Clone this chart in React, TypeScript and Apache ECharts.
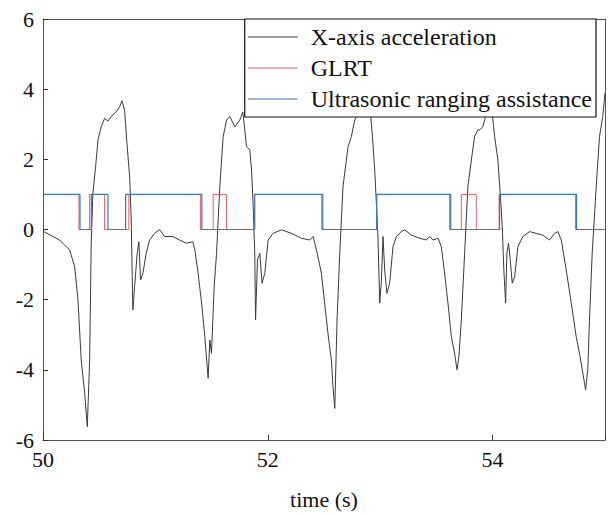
import React, { useEffect, useRef } from "react";
import * as echarts from "echarts";

const accTime = [
  50.0, 50.089, 50.148, 50.207, 50.237, 50.282, 50.311, 50.34, 50.371, 50.394, 50.415, 50.429, 50.444, 50.468,
  50.489, 50.518, 50.548, 50.578, 50.607, 50.652, 50.682, 50.702, 50.726, 50.747, 50.771, 50.785, 50.794, 50.8,
  50.815, 50.838, 50.853, 50.868, 50.889, 50.918, 50.948, 50.993, 51.037, 51.082, 51.156, 51.215, 51.274, 51.333,
  51.351, 51.38, 51.411, 51.44, 51.469, 51.484, 51.499, 51.523, 51.544, 51.573, 51.603, 51.633, 51.662, 51.707,
  51.751, 51.778, 51.811, 51.84, 51.855, 51.869, 51.884, 51.891, 51.908, 51.929, 51.949, 51.973, 52.003, 52.047,
  52.122, 52.211, 52.3, 52.373, 52.403, 52.433, 52.477, 52.522, 52.542, 52.566, 52.58, 52.596, 52.616, 52.64,
  52.669, 52.714, 52.744, 52.773, 52.788, 52.818, 52.862, 52.898, 52.916, 52.931, 52.951, 52.966, 52.98, 52.996,
  53.011, 53.025, 53.04, 53.06, 53.084, 53.114, 53.144, 53.188, 53.218, 53.277, 53.351, 53.411, 53.44, 53.469,
  53.514, 53.544, 53.573, 53.603, 53.633, 53.662, 53.683, 53.7, 53.722, 53.751, 53.78, 53.811, 53.84, 53.869,
  53.884, 53.914, 53.929, 53.956, 53.991, 54.018, 54.047, 54.068, 54.086, 54.1, 54.116, 54.127, 54.142, 54.157,
  54.175, 54.196, 54.225, 54.269, 54.329, 54.388, 54.447, 54.507, 54.551, 54.58, 54.611, 54.655, 54.7, 54.744,
  54.773, 54.803, 54.818, 54.827, 54.847, 54.862, 54.886, 54.922, 54.951, 54.98, 55.0,
];
const accValue = [
  -0.05, -0.2, -0.3, -0.49, -0.58, -1.06, -2.0, -3.72, -4.67, -5.62, -3.72, -0.39, 1.04, 1.79,
  2.55, 2.93, 3.17, 3.09, 3.22, 3.36, 3.5, 3.67, 3.4, 2.46, 1.5, 0.27, -1.35, -2.29,
  -1.63, -0.68, -0.35, -1.44, -1.25, -0.68, -0.3, -0.11, 0.0, -0.2, -0.2, -0.3, -0.39, -0.35,
  -0.58, -1.25, -2.1, -3.06, -4.24, -3.15, -3.53, -1.63, -0.68, 1.22, 2.65, 3.12, 3.22, 2.93,
  3.12, 3.35, 2.36, 2.27, 1.7, 0.75, -0.68, -2.58, -0.87, -0.68, -1.53, -1.25, -0.3, -0.11,
  -0.01, -0.11, -0.25, -0.3, -0.2, -0.58, -1.25, -2.58, -3.15, -3.72, -4.48, -5.1, -2.58, -0.68,
  1.22, 2.36, 2.65, 3.12, 3.22, 3.6, 3.9, 3.7, 3.22, 2.65, 1.7, 0.75, -0.2, -2.1,
  -1.44, -0.2, -1.15, -1.82, -1.53, -0.49, -0.2, -0.06, -0.01, -0.16, -0.25, -0.3, -0.2, -0.3,
  -0.25, -0.49, -1.25, -2.1, -3.06, -3.53, -4.0, -3.63, -2.58, -0.68, 1.22, 1.98, 2.65, 2.84,
  2.84, 2.93, 3.12, 3.45, 3.5, 2.65, 1.98, 1.03, 0.08, -1.15, -2.1, -0.68, -0.39, -0.87,
  -1.53, -1.35, -0.49, -0.2, -0.06, -0.11, -0.16, -0.3, -0.11, -0.06, -0.3, -1.15, -2.1, -3.06,
  -3.53, -4.1, -4.38, -4.57, -4.0, -2.58, -0.68, 1.22, 2.65, 3.22, 3.9,
];

const glrtTime = [50, 50.32, 50.415, 50.548, 50.764, 51.4, 51.514, 51.633, 51.88, 52.48, 52.969, 53.618, 53.722, 53.855, 54.058, 54.738, 55];
const glrtValue = [1, 0, 1, 0, 1, 0, 1, 0, 1, 0, 1, 0, 1, 0, 1, 0, 0];

const ultraTime = [50, 50.329, 50.43, 50.578, 50.735, 51.413, 51.884, 52.489, 52.969, 53.627, 54.062, 54.747, 55];
const ultraValue = [1, 0, 1, 0, 1, 0, 1, 0, 1, 0, 1, 0, 0];

const seriesNames = ["X-axis acceleration", "GLRT", "Ultrasonic ranging assistance"];
const xTicks = [50, 52, 54];

const zip = (t: number[], v: number[]) => t.map((x, i) => [x, v[i]]);

export default function App() {
  const ref = useRef<HTMLDivElement>(null);
  useEffect(() => {
    if (!ref.current) return;
    const chart = echarts.init(ref.current, undefined, { renderer: "svg" });
    const serif = "Liberation Serif, Times New Roman, serif";
    const richLabel = { t: { fontFamily: serif, fontSize: 22, color: "#111" } };
    const richLegend = { t: { fontFamily: serif, fontSize: 24, color: "#111" } };
    chart.setOption({
      animation: false,
      textStyle: { fontFamily: serif },
      grid: { left: 43, top: 19, right: 6, bottom: 75 },
      legend: {
        data: seriesNames,
        right: 15,
        top: 19,
        orient: "vertical",
        align: "left",
        icon: "rect",
        itemWidth: 50,
        itemHeight: 1.2,
        itemGap: 7,
        padding: [6, 4, 6, 3],
        backgroundColor: "#fff",
        borderColor: "#111",
        borderWidth: 1.2,
        borderRadius: 0,
        z: 10,
        formatter: (name: string) => `{t|${name}}`,
        textStyle: { fontFamily: serif, fontSize: 24, color: "#111", padding: [0, 0, 0, 8], rich: richLegend },
      },
      xAxis: [
        {
          type: "value",
          min: 50,
          max: 55,
          interval: 2,
          name: "{t|time (s)}",
          nameLocation: "middle",
          nameGap: 48,
          nameTextStyle: { fontFamily: serif, fontSize: 22, color: "#111", rich: richLabel },
          axisLine: { show: true, onZero: false, lineStyle: { color: "#555" } },
          axisTick: { show: true, inside: true, length: 5, lineStyle: { color: "#333" } },
          axisLabel: {
            fontFamily: serif,
            fontSize: 22,
            color: "#111",
            margin: 8,
            rich: richLabel,
            formatter: (v: number) => (xTicks.includes(v) ? `{t|${v}}` : ""),
          },
          splitLine: { show: false },
        },
        {
          type: "value",
          position: "top",
          min: 50,
          max: 55,
          interval: 2,
          axisLine: { show: true, onZero: false, lineStyle: { color: "#555" } },
          axisTick: { show: false },
          axisLabel: { show: false },
          splitLine: { show: false },
        },
      ],
      yAxis: [
        {
          type: "value",
          min: -6,
          max: 6,
          interval: 2,
          axisLine: { show: true, onZero: false, lineStyle: { color: "#555" } },
          axisTick: { show: true, inside: true, length: 5, lineStyle: { color: "#333" } },
          axisLabel: {
            fontFamily: serif,
            fontSize: 22,
            color: "#111",
            margin: 9,
            rich: richLabel,
            formatter: (v: number) => `{t|${v}}`,
          },
          splitLine: { show: false },
        },
        {
          type: "value",
          position: "right",
          min: -6,
          max: 6,
          interval: 2,
          axisLine: { show: true, onZero: false, lineStyle: { color: "#555" } },
          axisTick: { show: false },
          axisLabel: { show: false },
          splitLine: { show: false },
        },
      ],
      series: [
        {
          name: seriesNames[0],
          type: "line",
          data: zip(accTime, accValue),
          symbol: "none",
          lineStyle: { color: "#3a3a3a", width: 1 },
          itemStyle: { color: "#3a3a3a" },
          z: 2,
        },
        {
          name: seriesNames[1],
          type: "line",
          step: "end",
          data: zip(glrtTime, glrtValue),
          symbol: "none",
          lineStyle: { color: "#d9636b", width: 1 },
          itemStyle: { color: "#d9636b" },
          z: 3,
        },
        {
          name: seriesNames[2],
          type: "line",
          step: "end",
          data: zip(ultraTime, ultraValue),
          symbol: "none",
          lineStyle: { color: "#3d77b8", width: 1.2 },
          itemStyle: { color: "#3d77b8" },
          z: 4,
        },
      ],
    });
    return () => chart.dispose();
  }, []);
  return <div ref={ref} style={{ width: 611, height: 515, position: "absolute", left: 0, top: 0 }} />;
}
